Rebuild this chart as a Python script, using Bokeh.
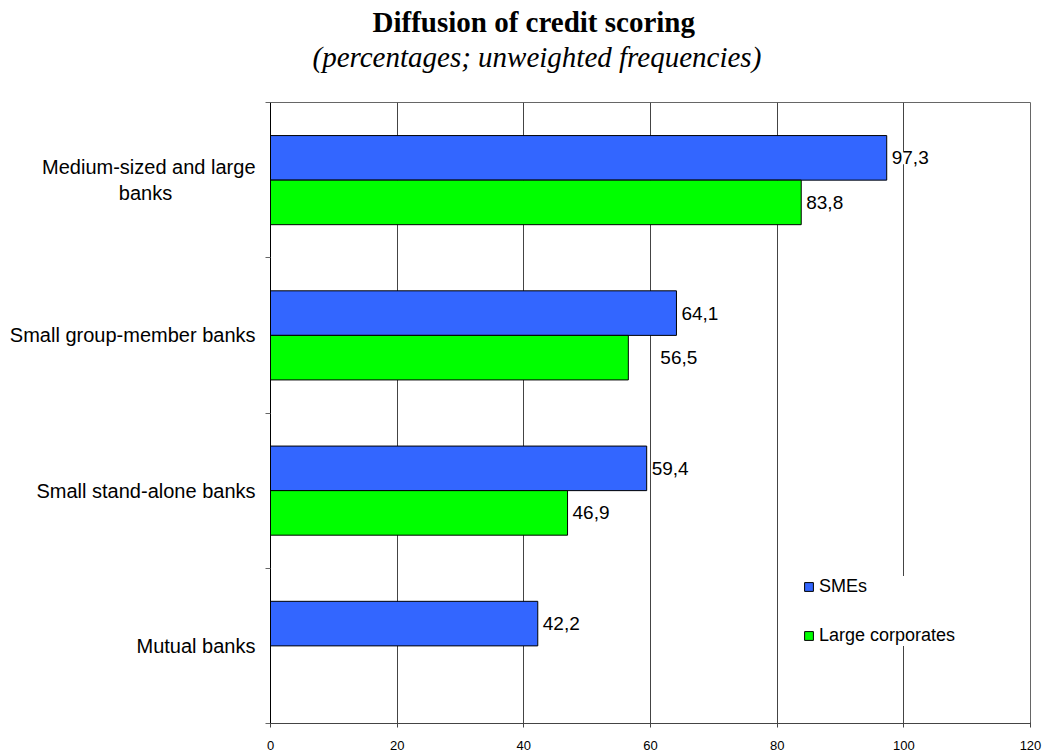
from bokeh.plotting import figure
from bokeh.models import (ColumnDataSource, Range1d, FixedTicker, LabelSet,
                          Legend, LegendItem, Title)
from bokeh.core.properties import value
from bokeh.embed import file_html
from bokeh.resources import INLINE

# ---- data -------------------------------------------------------------
categories = ["Medium-sized and large banks", "Small group-member banks",
              "Small stand-alone banks", "Mutual banks"]
category_labels = ["Medium-sized and large\nbanks", "Small group-member banks",
                   "Small stand-alone banks", "Mutual banks"]
smes = [97.3, 64.1, 59.4, 42.2]
large_corporates = [83.8, 56.5, 46.9, None]   # no figure for mutual banks
x_ticks = [0, 20, 40, 60, 80, 100, 120]
title = "Diffusion of credit scoring"
subtitle = "(percentages; unweighted frequencies)"

# ---- styling ----------------------------------------------------------
SANS = "Liberation Sans"
SERIF = "Liberation Serif"
BLUE = "#3366FF"
GREEN = "#00FF00"
BAR_H = 0.287
label_nudge_large = [0, 27, 0, 0]   # keep a label clear of a gridline
NBSP = "\u00a0"

n = len(categories)
centers = [n - 0.5 - i for i in range(n)]
edges = list(range(n + 1))


def fmt(v):
    return f"{v:.1f}".replace(".", ",")


def centred(label, pad=15):
    # axis labels are right-justified; pad the short second line so it
    # sits centred under the first one
    if "\n" not in label:
        return label
    first, second = label.split("\n")
    return first + "\n" + second + NBSP * pad


src_sme = ColumnDataSource(dict(
    y=[c + BAR_H / 2 for c in centers], x=smes,
    txt=[fmt(v) for v in smes], dx=[5] * n))

idx_lc = [i for i, v in enumerate(large_corporates) if v is not None]
src_lc = ColumnDataSource(dict(
    y=[centers[i] - BAR_H / 2 for i in idx_lc],
    x=[large_corporates[i] for i in idx_lc],
    txt=[fmt(large_corporates[i]) for i in idx_lc],
    dx=[5 + label_nudge_large[i] for i in idx_lc]))

p = figure(width=1043, height=753, output_backend="svg", toolbar_location=None,
           x_range=Range1d(0, 120), y_range=Range1d(0, n),
           min_border_left=270, min_border_right=13,
           min_border_top=102, min_border_bottom=30,
           background_fill_color="white", border_fill_color="white")
p.outline_line_color = "#666666"
p.outline_line_width = 1

# titles: a spacer keeps a gap above the frame, then subtitle, then title
p.add_layout(Title(text=NBSP, text_font_size="1px", standoff=27), "above")
p.add_layout(Title(text=subtitle, align="left", offset=42,
                   text_font=SERIF, text_font_style="italic",
                   text_font_size="29px", text_color="black", standoff=0),
             "above")
p.add_layout(Title(text=title, align="left", offset=102,
                   text_font=SERIF, text_font_style="bold",
                   text_font_size="29px", text_color="black", standoff=2),
             "above")

# bars
r_sme = p.hbar(y="y", right="x", left=0, height=BAR_H, source=src_sme,
               fill_color=BLUE, line_color="black", line_width=1)
r_lc = p.hbar(y="y", right="x", left=0, height=BAR_H, source=src_lc,
              fill_color=GREEN, line_color="black", line_width=1)

# value labels
for src in (src_sme, src_lc):
    p.add_layout(LabelSet(x="x", y="y", text="txt", source=src, x_offset="dx",
                          text_align="left", text_baseline="middle",
                          text_font=value(SANS), text_font_size="19px",
                          text_color="black",
                          background_fill_color="white"))

# x axis and grid
xa = p.xaxis[0]
xa.ticker = FixedTicker(ticks=x_ticks)
xa.axis_line_color = "#444444"
xa.major_tick_line_color = "#444444"
xa.major_tick_out = 4
xa.major_tick_in = 1
xa.minor_tick_line_color = None
xa.major_label_text_font = SANS
xa.major_label_text_font_size = "13px"
xa.major_label_text_color = "black"
xa.major_label_standoff = 13

p.xgrid.ticker = FixedTicker(ticks=x_ticks)
p.xgrid.grid_line_color = "#444444"
p.xgrid.grid_line_width = 1
p.ygrid.grid_line_color = None

# y axis: labels at the category centres, tick marks at the band edges
ya = p.yaxis[0]
ya.ticker = FixedTicker(ticks=centers, minor_ticks=edges)
ya.major_label_overrides = {c: centred(lab)
                            for c, lab in zip(centers, category_labels)}
ya.major_tick_line_color = None
ya.major_tick_out = 0
ya.major_tick_in = 0
ya.minor_tick_line_color = "#666666"
ya.minor_tick_out = 5
ya.minor_tick_in = 0
ya.axis_line_color = "black"
ya.major_label_text_font = SANS
ya.major_label_text_font_size = "20px"
ya.major_label_text_color = "black"
ya.major_label_standoff = 10

# legend
legend = Legend(items=[LegendItem(label="SMEs", renderers=[r_sme]),
                       LegendItem(label="Large corporates", renderers=[r_lc])],
                location=(533, 77), margin=0, padding=14, spacing=28,
                glyph_width=11, glyph_height=11, label_height=20,
                label_standoff=5, label_text_font=SANS,
                label_text_font_size="18px", label_text_color="black",
                background_fill_color="white", background_fill_alpha=1,
                border_line_color=None)
p.add_layout(legend)

open("out.html", "w").write(file_html(p, INLINE))
